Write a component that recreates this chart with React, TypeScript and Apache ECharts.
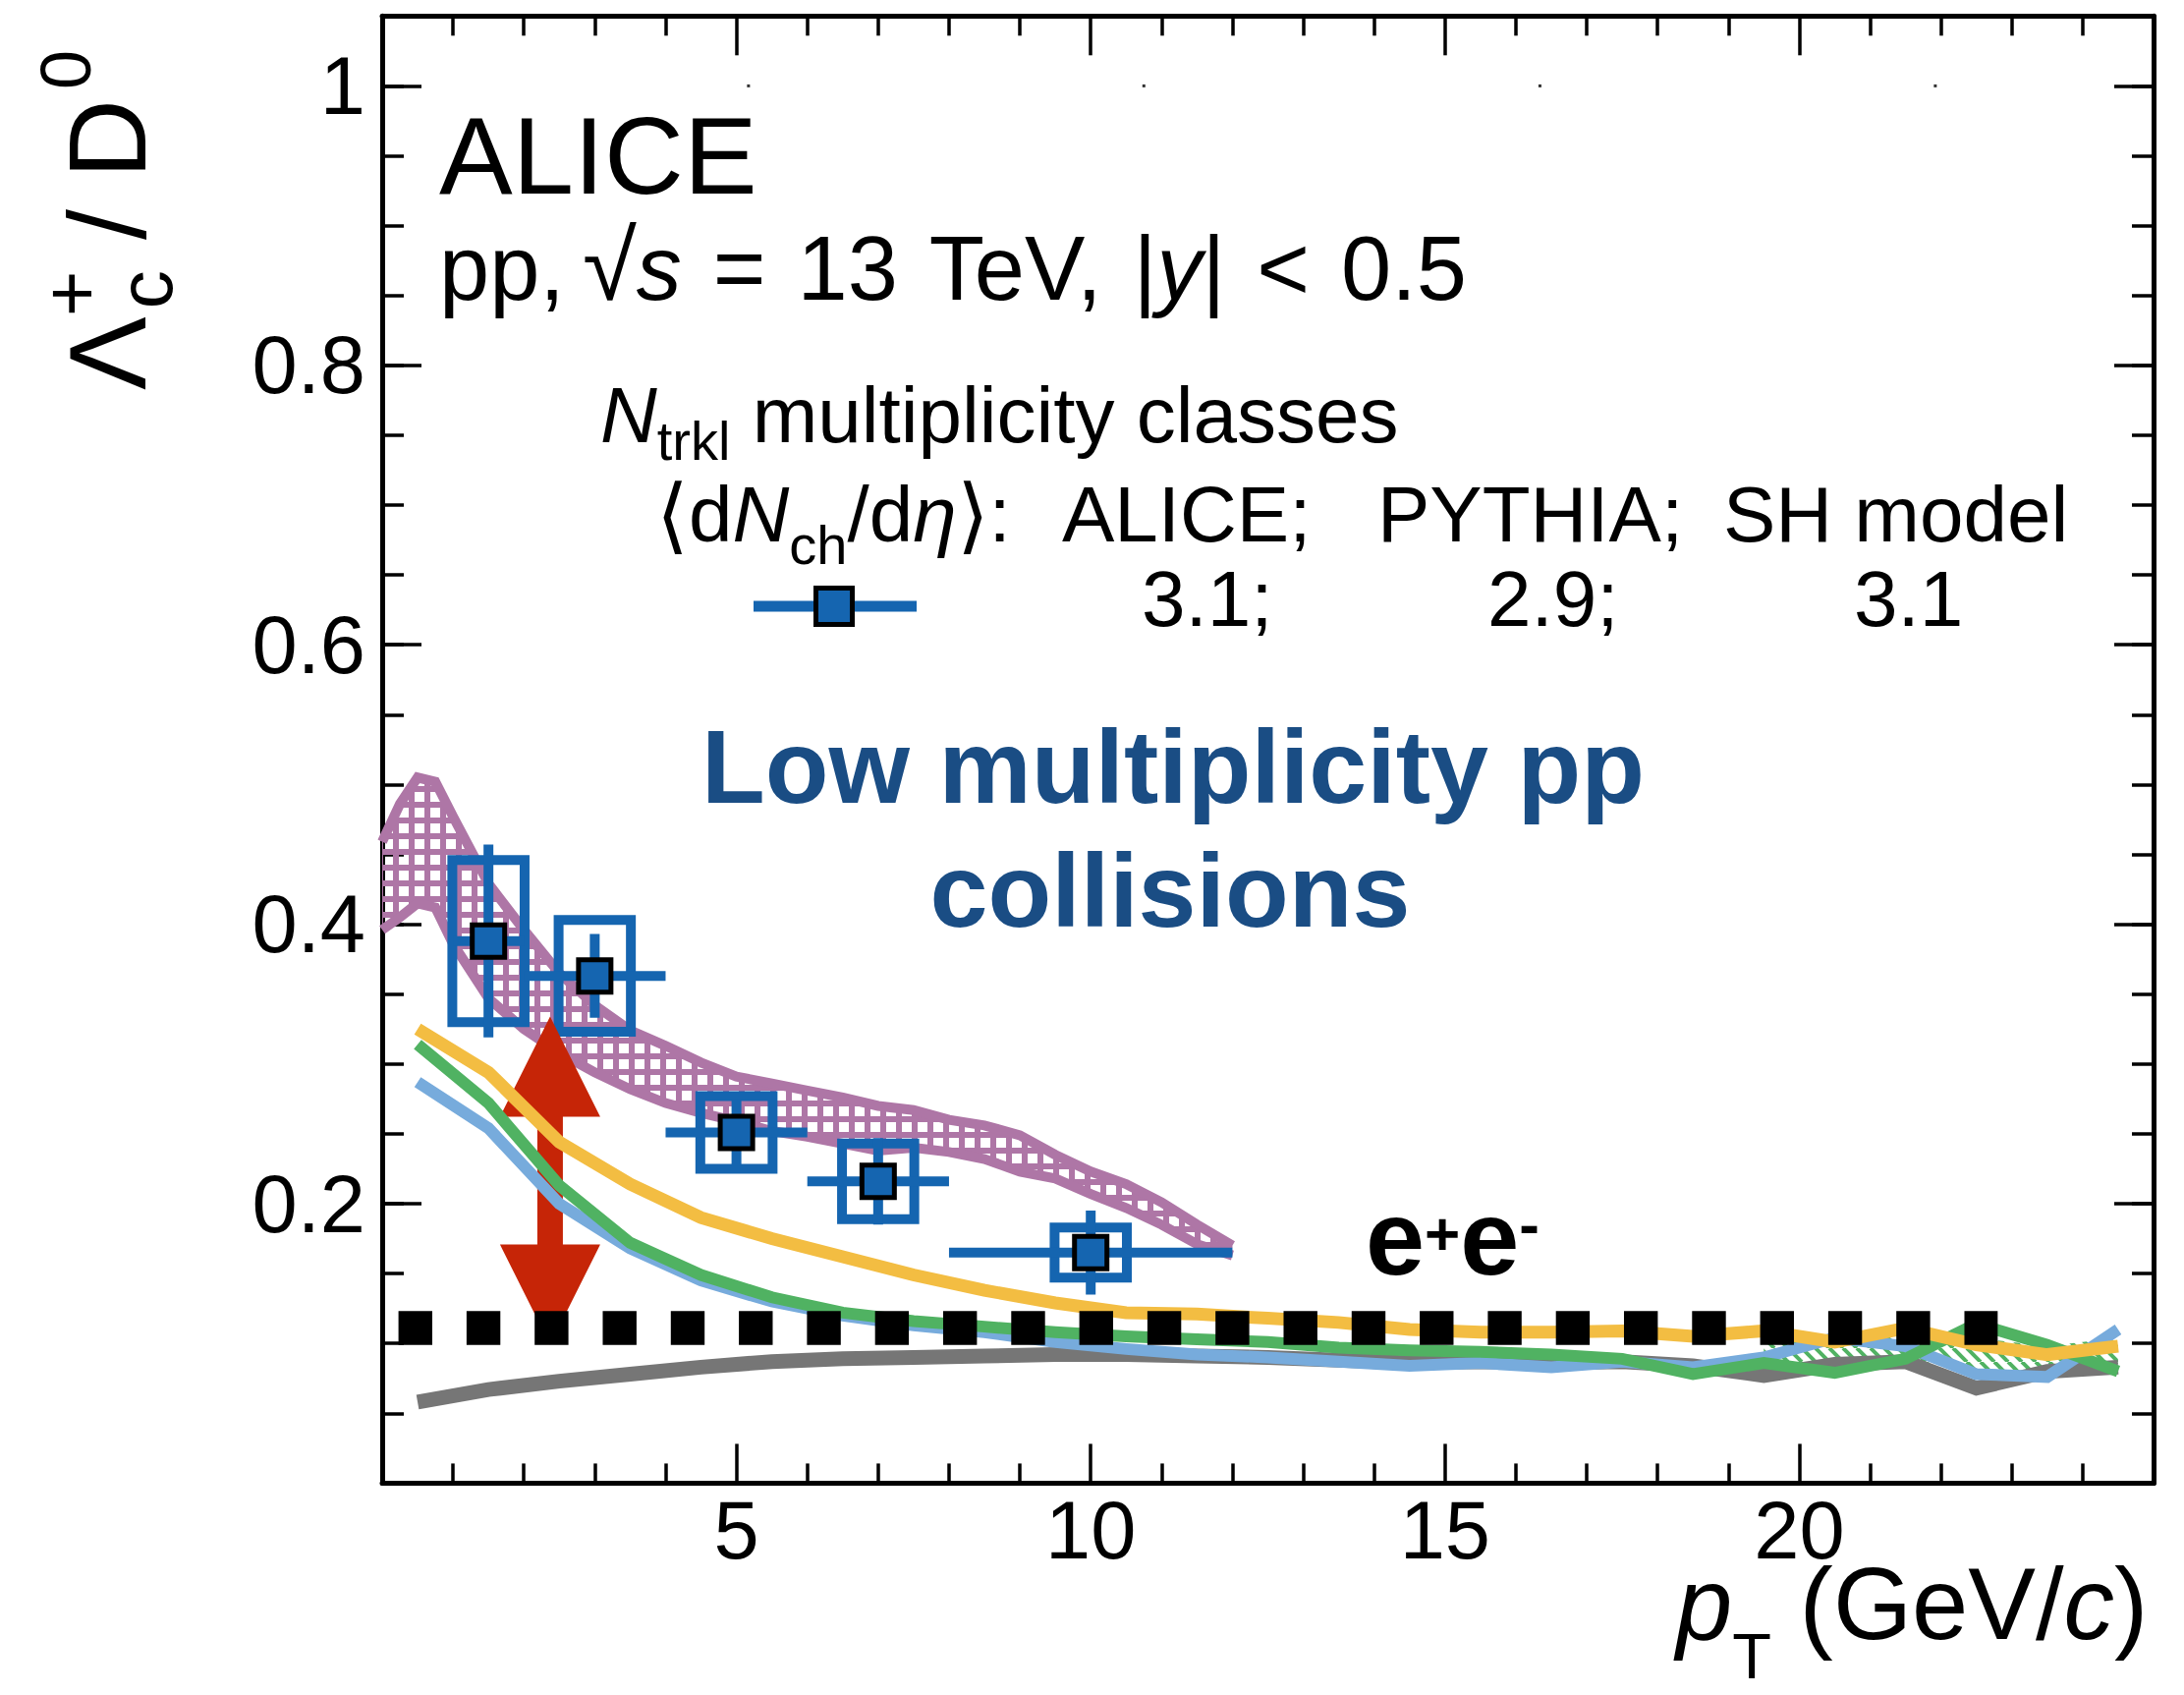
import React, { useEffect, useRef } from 'react';
import * as echarts from 'echarts';

// ---------------- data ----------------
const ptCentre = [1.5, 3, 5, 7, 10];
const ptBinLow = [1, 2, 4, 6, 8];
const ptBinHigh = [2, 4, 6, 8, 12];
const ratioLcD0 = [0.388, 0.363, 0.251, 0.216, 0.165];
const statErr = [0.069, 0.030, 0.024, 0.031, 0.030];
const systErr = [0.058, 0.040, 0.026, 0.027, 0.018];
const systBoxHalfWidth = 0.51;

const pythiaPt = [0.5, 1.5, 2.5, 3.5, 4.5, 5.5, 6.5, 7.5, 8.5, 9.5, 10.5, 11.5, 12.5, 13.5, 14.5, 15.5, 16.5, 17.5, 18.5, 19.5, 20.5, 21.5, 22.5, 23.5, 24.5];
const pythiaGray = [0.058, 0.067, 0.073, 0.078, 0.083, 0.087, 0.089, 0.090, 0.091, 0.092, 0.092, 0.091, 0.090, 0.088, 0.086, 0.087, 0.086, 0.087, 0.084, 0.077, 0.085, 0.087, 0.068, 0.080, 0.083];
const pythiaLightBlue = [0.287, 0.254, 0.200, 0.168, 0.145, 0.130, 0.120, 0.113, 0.108, 0.101, 0.096, 0.092, 0.090, 0.087, 0.084, 0.086, 0.083, 0.087, 0.083, 0.090, 0.104, 0.098, 0.078, 0.076, 0.110];
const pythiaGreen = [0.314, 0.272, 0.213, 0.172, 0.149, 0.133, 0.122, 0.116, 0.112, 0.108, 0.105, 0.103, 0.101, 0.097, 0.095, 0.094, 0.092, 0.089, 0.078, 0.086, 0.079, 0.089, 0.114, 0.099, 0.080];
const pythiaYellow = [0.325, 0.294, 0.244, 0.214, 0.190, 0.175, 0.162, 0.149, 0.138, 0.129, 0.122, 0.121, 0.118, 0.115, 0.110, 0.108, 0.108, 0.109, 0.105, 0.109, 0.101, 0.111, 0.099, 0.092, 0.098];

const shmPt = [0, 0.25, 0.5, 0.75, 1, 1.5, 2, 2.5, 3, 3.5, 4, 4.5, 5, 5.5, 6, 6.5, 7, 7.5, 8, 8.5, 9, 9.5, 10, 10.5, 11, 11.5, 12];
const shmHigh = [0.459, 0.486, 0.505, 0.502, 0.477, 0.429, 0.396, 0.365, 0.342, 0.324, 0.313, 0.301, 0.291, 0.286, 0.281, 0.276, 0.270, 0.267, 0.260, 0.256, 0.249, 0.235, 0.223, 0.214, 0.201, 0.185, 0.170];
const shmLow = [0.396, 0.405, 0.415, 0.412, 0.386, 0.347, 0.325, 0.308, 0.294, 0.282, 0.272, 0.265, 0.259, 0.252, 0.248, 0.243, 0.238, 0.240, 0.237, 0.232, 0.223, 0.218, 0.207, 0.197, 0.185, 0.171, 0.163];

const hatchPt = [19.5, 20.5, 21.5, 22.5, 23.5, 24.5];
const hatchHigh = [0.104, 0.101, 0.110, 0.104, 0.098, 0.104];
const hatchLow = [0.086, 0.082, 0.089, 0.079, 0.080, 0.082];

const eePt = [0.23, 22.8];
const eeRatio = 0.111;

const arrowPt = 2.37;
const arrowTop = 0.334;
const arrowBottom = 0.099;

const strayDotsPt = [5.17, 10.75, 16.34, 21.92];
const strayDotsRatio = 1.0;

const xTickLabels = ['5', '10', '15', '20'];
const yTickLabels = ['0.2', '0.4', '0.6', '0.8', '1'];

// ---------------- style ----------------
const FONT = '"Liberation Sans", Arial, Helvetica, sans-serif';
const BLUE = '#1565b0';
const TITLE_BLUE = '#1a4d84';
const PINK = '#ae76a6';
const YELLOW = '#f3bd42';
const GREEN = '#50b262';
const LIGHTBLUE = '#77abdc';
const GRAY = '#767676';
const RED = '#c62507';

let measureCtx: CanvasRenderingContext2D | null = null;
function textWidth(t: string, size: number, italic = false, bold = false): number {
  if (!measureCtx) measureCtx = document.createElement('canvas').getContext('2d');
  measureCtx!.font = `${italic ? 'italic ' : ''}${bold ? 'bold ' : ''}${size}px ${FONT}`;
  return measureCtx!.measureText(t).width;
}

function txt(t: string, x: number, base: number, s: number, fill: string, italic = false, bold = false, align = 'left'): any {
  return {
    type: 'text',
    x,
    y: base - 0.3465 * s,
    silent: true,
    style: {
      text: t,
      fontSize: s,
      fontFamily: FONT,
      fontStyle: italic ? 'italic' : 'normal',
      fontWeight: bold ? 'bold' : 'normal',
      fill,
      align,
      verticalAlign: 'middle',
      textAlign: align,
      textVerticalAlign: 'middle',
    },
  };
}

type Run = { t: string; s: number; i?: boolean; b?: boolean; dy?: number; gap?: number; stack?: boolean };
function runTexts(runs: Run[], x0: number, base: number, fill: string): any[] {
  const out: any[] = [];
  let pen = x0;
  let lastStart = x0;
  for (const r of runs) {
    const start = r.stack ? lastStart + (r.gap || 0) : pen + (r.gap || 0);
    const w = textWidth(r.t, r.s, !!r.i, !!r.b);
    out.push(txt(r.t, start, base + (r.dy || 0), r.s, fill, !!r.i, !!r.b));
    if (r.stack) pen = Math.max(pen, start + w);
    else {
      lastStart = start;
      pen = start + w;
    }
  }
  return out;
}

function makePattern(size: number, draw: (c: CanvasRenderingContext2D) => void): any {
  const cv = document.createElement('canvas');
  cv.width = size;
  cv.height = size;
  const c = cv.getContext('2d')!;
  draw(c);
  return { image: cv, repeat: 'repeat', imageWidth: size, imageHeight: size };
}

function buildOption(): any {
  const gridPattern = makePattern(16, (c) => {
    c.fillStyle = PINK;
    c.fillRect(0, 0, 16, 6);
    c.fillRect(0, 0, 6, 16);
  });
  const diagPattern = makePattern(14, (c) => {
    c.strokeStyle = GREEN;
    c.lineWidth = 4;
    for (const x0 of [-14, 0, 14]) {
      c.beginPath();
      c.moveTo(x0, 0);
      c.lineTo(x0 + 14, 14);
      c.stroke();
    }
  });

  const tickStyle = { color: '#000', width: 3.5 };
  const axisLine = { show: true, onZero: false, lineStyle: { color: '#000', width: 5 } };
  const xFormatter = (v: number) => xTickLabels.find((l) => Math.abs(parseFloat(l) - v) < 1e-6) || '';
  const yFormatter = (v: number) => yTickLabels.find((l) => Math.abs(parseFloat(l) - v) < 1e-6) || '';

  const xBase = {
    type: 'value', min: 0, max: 25, interval: 5,
    splitLine: { show: false },
    axisLine,
    axisTick: { show: true, inside: true, length: 40, lineStyle: tickStyle },
    minorTick: { show: true, splitNumber: 5, length: 20, lineStyle: tickStyle },
  };
  const yMajor = {
    type: 'value', min: 0, max: 1.05, interval: 0.2,
    splitLine: { show: false },
    axisLine,
    axisTick: { show: true, inside: true, length: 40, lineStyle: tickStyle },
  };
  const yMinor = {
    type: 'value', min: 0, max: 1.05, interval: 0.05,
    splitLine: { show: false },
    axisLine: { show: false, onZero: false },
    axisLabel: { show: false },
    axisTick: { show: true, inside: true, length: 22, lineStyle: tickStyle },
  };

  const lineSeries = (data: number[], color: string, width: number) => ({
    type: 'line',
    data: pythiaPt.map((x, i) => [x, data[i]]),
    symbol: 'none',
    showSymbol: false,
    silent: true,
    lineStyle: { color, width, join: 'miter' },
  });

  // texts
  const elements: any[] = [];
  elements.push(...runTexts([{ t: 'ALICE', s: 112 }], 447, 197, '#000'));
  elements.push(...runTexts([
    { t: 'pp,', s: 92 },
    { t: '√', s: 100, gap: 18 },
    { t: 's', s: 92, i: true },
    { t: '=', s: 92, gap: 32 },
    { t: '13', s: 92, gap: 32 },
    { t: 'TeV,', s: 92, gap: 32 },
    { t: '|', s: 92, gap: 32 },
    { t: 'y', s: 92, i: true },
    { t: '|', s: 92 },
    { t: '<', s: 92, gap: 32 },
    { t: '0.5', s: 92, gap: 32 },
  ], 447, 305, '#000'));
  elements.push(...runTexts([
    { t: 'N', s: 80, i: true },
    { t: 'trkl', s: 56, dy: 18 },
    { t: ' multiplicity classes', s: 80 },
  ], 611, 450, '#000'));
  elements.push(...runTexts([
    { t: '⟨', s: 84, dy: 2 },
    { t: 'd', s: 80 },
    { t: 'N', s: 80, i: true },
    { t: 'ch', s: 56, dy: 23 },
    { t: '/d', s: 80 },
    { t: 'η', s: 80, i: true },
    { t: '⟩', s: 84, dy: 2 },
    { t: ':', s: 80 },
  ], 668, 551, '#000'));
  elements.push(txt('ALICE;', 1081, 551, 80, '#000'));
  elements.push(txt('PYTHIA;', 1402, 551, 80, '#000'));
  elements.push(txt('SH model', 1754, 551, 80, '#000'));
  elements.push(txt('3.1;', 1162, 637, 80, '#000'));
  elements.push(txt('2.9;', 1514, 637, 80, '#000'));
  elements.push(txt('3.1', 1887, 637, 80, '#000'));
  elements.push(txt('Low multiplicity pp', 1194, 817, 106, TITLE_BLUE, false, true, 'center'));
  elements.push(txt('collisions', 1191, 943, 106, TITLE_BLUE, false, true, 'center'));
  elements.push(...runTexts([
    { t: 'e', s: 108, b: true },
    { t: '+', s: 62, b: true, dy: -20 },
    { t: 'e', s: 108, b: true },
    { t: '-', s: 62, b: true, dy: -30 },
  ], 1390, 1297, '#000'));
  elements.push(...runTexts([
    { t: 'p', s: 103, i: true },
    { t: 'T', s: 65, dy: 40 },
    { t: ' (GeV/', s: 103 },
    { t: 'c', s: 103, i: true },
    { t: ')', s: 103 },
  ], 1706, 1668, '#000'));
  elements.push({
    type: 'group',
    x: 148,
    y: 397,
    rotation: Math.PI / 2,
    silent: true,
    children: runTexts([
      { t: 'Λ', s: 112 },
      { t: 'c', s: 78, dy: 27, gap: 8 },
      { t: '+', s: 80, dy: -48, stack: true, gap: -8 },
      { t: ' / ', s: 112 },
      { t: 'D', s: 112 },
      { t: '0', s: 72, dy: -56, gap: 10 },
    ], 0, 0, '#000'),
  });
  // legend sample
  elements.push({ type: 'line', silent: true, shape: { x1: 767, y1: 617, x2: 933, y2: 617 }, style: { stroke: BLUE, lineWidth: 11 } });
  elements.push({ type: 'rect', silent: true, shape: { x: 830.5, y: 598.5, width: 37, height: 37 }, style: { fill: BLUE, stroke: '#000', lineWidth: 5 } });

  return {
    animation: false,
    backgroundColor: '#fff',
    grid: { left: 389, top: 16.3, width: 1803, height: 1493.1, containLabel: false },
    xAxis: [
      { ...xBase, position: 'bottom', axisLabel: { show: true, margin: 7, fontSize: 83, fontFamily: FONT, color: '#000', formatter: xFormatter } },
      { ...xBase, position: 'top', axisLabel: { show: false } },
    ],
    yAxis: [
      { ...yMajor, position: 'left', axisLabel: { show: true, margin: 17, fontSize: 83, fontFamily: FONT, color: '#000', formatter: yFormatter } },
      { ...yMinor, position: 'left' },
      { ...yMajor, position: 'right', axisLabel: { show: false } },
      { ...yMinor, position: 'right' },
    ],
    graphic: { elements },
    series: [
      lineSeries(pythiaGray, GRAY, 15),
      lineSeries(pythiaLightBlue, LIGHTBLUE, 12),
      lineSeries(pythiaGreen, GREEN, 12),
      {
        type: 'custom',
        silent: true,
        data: [[hatchPt[0], hatchHigh[0]]],
        renderItem: (_p: any, api: any) => {
          const up = hatchPt.map((x, i) => api.coord([x, hatchHigh[i]]));
          const lo = hatchPt.map((x, i) => api.coord([x, hatchLow[i]]));
          return { type: 'polygon', shape: { points: up.concat(lo.slice().reverse()) }, style: { fill: diagPattern, stroke: 'none' } };
        },
      },
      lineSeries(pythiaYellow, YELLOW, 13),
      {
        type: 'line',
        data: eePt.map((x) => [x, eeRatio]),
        symbol: 'none',
        silent: true,
        lineStyle: { color: '#000', width: 34.6, type: [34.4, 34.9], cap: 'butt' },
      },
      {
        type: 'custom',
        silent: true,
        data: [[shmPt[0], shmHigh[0]]],
        renderItem: (_p: any, api: any) => {
          const up = shmPt.map((x, i) => api.coord([x, shmHigh[i]]));
          const lo = shmPt.map((x, i) => api.coord([x, shmLow[i]]));
          return {
            type: 'group',
            children: [
              { type: 'polygon', shape: { points: up.concat(lo.slice().reverse()) }, style: { fill: gridPattern, stroke: 'none' } },
              { type: 'polyline', shape: { points: up }, style: { stroke: PINK, lineWidth: 10, fill: 'none' } },
              { type: 'polyline', shape: { points: lo }, style: { stroke: PINK, lineWidth: 10, fill: 'none' } },
            ],
          };
        },
      },
      {
        type: 'custom',
        silent: true,
        data: ptCentre.map((x, i) => [x, ratioLcD0[i], ptBinLow[i], ptBinHigh[i], statErr[i], systErr[i]]),
        encode: { x: 0, y: 1 },
        renderItem: (_p: any, api: any) => {
          const x = api.value(0), y = api.value(1), lo = api.value(2), hi = api.value(3), st = api.value(4), sy = api.value(5);
          const c = api.coord([x, y]);
          const pLo = api.coord([lo, y]);
          const pHi = api.coord([hi, y]);
          const sTop = api.coord([x, y + st]);
          const sBot = api.coord([x, y - st]);
          const bTL = api.coord([x - systBoxHalfWidth, y + sy]);
          const bBR = api.coord([x + systBoxHalfWidth, y - sy]);
          return {
            type: 'group',
            children: [
              { type: 'rect', shape: { x: bTL[0], y: bTL[1], width: bBR[0] - bTL[0], height: bBR[1] - bTL[1] }, style: { fill: 'none', stroke: BLUE, lineWidth: 10 } },
              { type: 'line', shape: { x1: pLo[0], y1: c[1], x2: pHi[0], y2: c[1] }, style: { stroke: BLUE, lineWidth: 10 } },
              { type: 'line', shape: { x1: c[0], y1: sTop[1], x2: c[0], y2: sBot[1] }, style: { stroke: BLUE, lineWidth: 10 } },
              { type: 'rect', shape: { x: c[0] - 16.5, y: c[1] - 16.5, width: 33, height: 33 }, style: { fill: BLUE, stroke: '#000', lineWidth: 5 } },
            ],
          };
        },
      },
      {
        type: 'custom',
        silent: true,
        data: [[arrowPt, arrowTop, arrowBottom]],
        encode: { x: 0, y: 1 },
        renderItem: (_p: any, api: any) => {
          const t = api.coord([api.value(0), api.value(1)]);
          const b = api.coord([api.value(0), api.value(2)]);
          const cx = t[0], yt = t[1], yb = b[1];
          const hl = 102, hw = 51, sw = 13;
          return {
            type: 'polygon',
            shape: {
              points: [
                [cx, yt], [cx + hw, yt + hl], [cx + sw, yt + hl], [cx + sw, yb - hl], [cx + hw, yb - hl],
                [cx, yb], [cx - hw, yb - hl], [cx - sw, yb - hl], [cx - sw, yt + hl], [cx - hw, yt + hl],
              ],
            },
            style: { fill: RED, stroke: 'none' },
          };
        },
      },
      {
        type: 'scatter',
        silent: true,
        data: strayDotsPt.map((x) => [x, strayDotsRatio]),
        symbol: 'rect',
        symbolSize: 3,
        itemStyle: { color: '#000' },
      },
    ],
  };
}

export default function App() {
  const ref = useRef<HTMLDivElement>(null);
  useEffect(() => {
    if (!ref.current) return;
    const chart = echarts.init(ref.current, undefined, { renderer: 'svg' });
    chart.setOption(buildOption());
    return () => chart.dispose();
  }, []);
  return (
    <div
      ref={ref}
      style={{ position: 'fixed', left: 0, top: 0, width: 2223, height: 1725, background: '#fff' }}
    />
  );
}
